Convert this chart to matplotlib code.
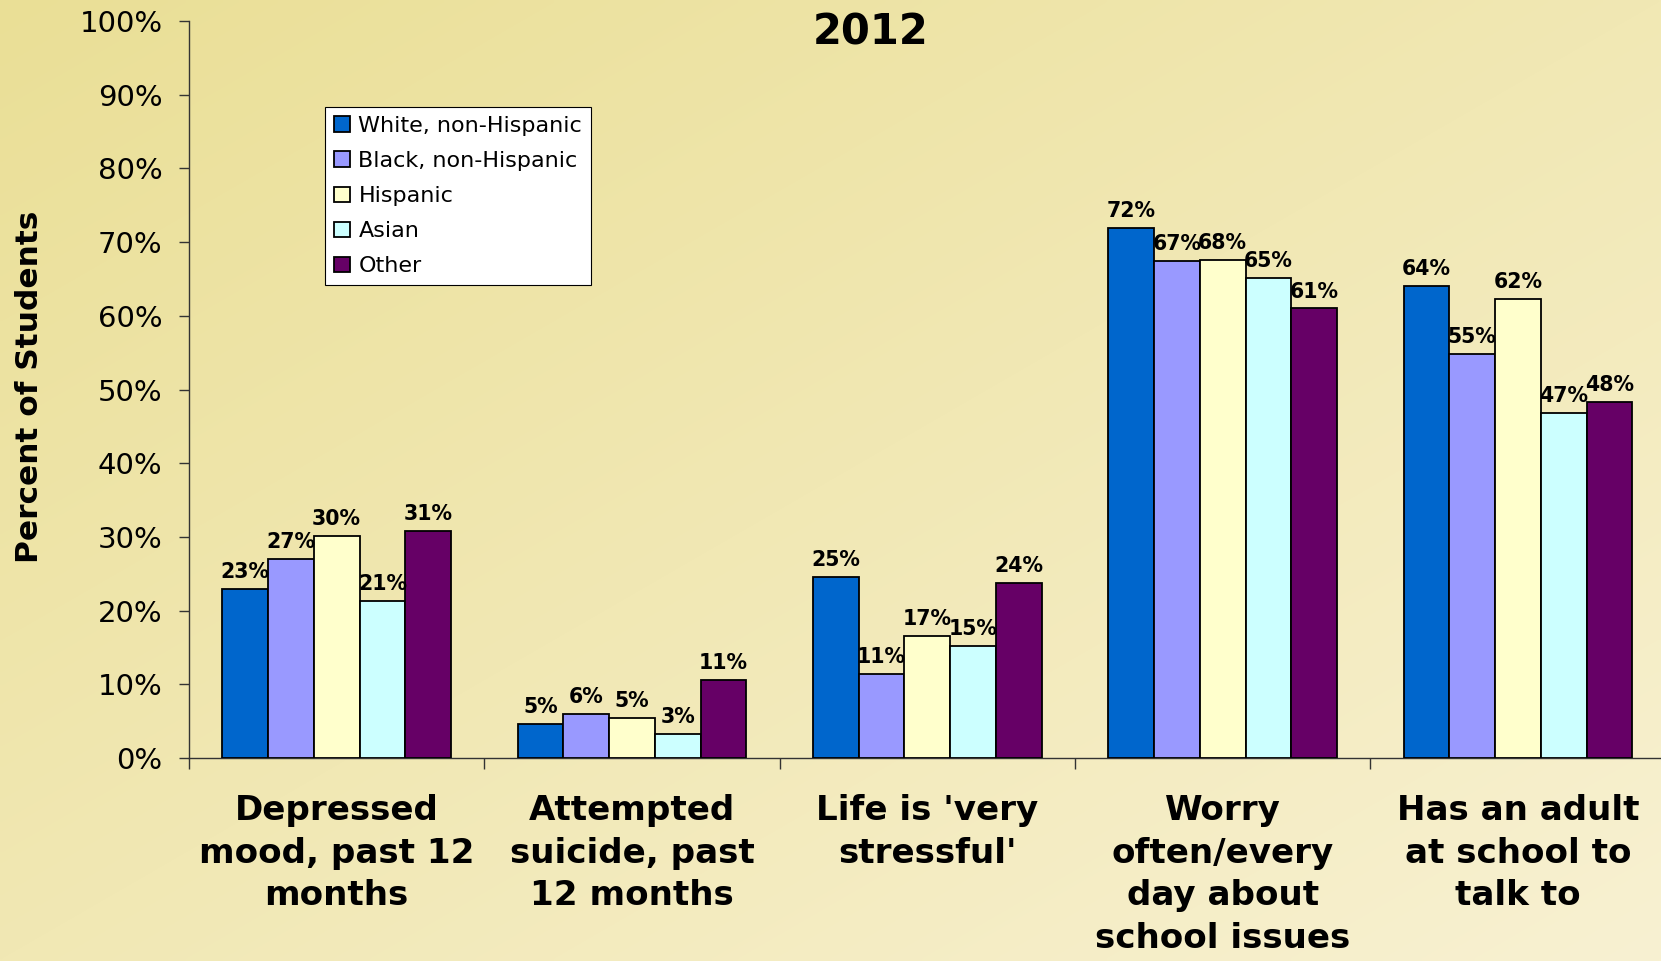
import numpy as np
import matplotlib
matplotlib.use("Agg")
import matplotlib.pyplot as plt

plt.rcParams['font.family'] = ['DejaVu Sans']

categories = ["Depressed\nmood, past 12\nmonths",
              "Attempted\nsuicide, past\n12 months",
              "Life is 'very\nstressful'",
              "Worry\noften/every\nday about\nschool issues",
              "Has an adult\nat school to\ntalk to"]
groups = ["White, non-Hispanic", "Black, non-Hispanic", "Hispanic", "Asian", "Other"]
white = [23.0, 4.6, 24.6, 71.9, 64.0]
black = [27.0, 6.0, 11.4, 67.4, 54.8]
hispanic = [30.1, 5.4, 16.6, 67.6, 62.3]
asian = [21.3, 3.3, 15.2, 65.2, 46.8]
other = [30.8, 10.6, 23.7, 61.0, 48.3]
colors = ["#0066CC", "#9999FF", "#FFFFCC", "#CCFFFF", "#660066"]

series = [white, black, hispanic, asian, other]

fig = plt.figure(figsize=(16.61, 9.61), dpi=100)

# background gradient (diagonal, darker top-left)
bg = fig.add_axes([0, 0, 1, 1], zorder=-10)
H, W = 200, 340
yy, xx = np.mgrid[0:H, 0:W]
t = (xx / (W - 1) + yy / (H - 1)) / 2.0
c0 = np.array([234, 223, 150]) / 255.0
c1 = np.array([248, 241, 210]) / 255.0
img = c0[None, None, :] * (1 - t[..., None]) + c1[None, None, :] * t[..., None]
bg.imshow(img, aspect='auto', extent=[0, 1, 0, 1], interpolation='bilinear')
bg.axis('off')

ax = fig.add_axes([0.1138, 0.2112, 0.889, 0.7669])
ax.set_facecolor('none')

x = np.arange(len(categories))
w = 0.155
for j, (vals, col, name) in enumerate(zip(series, colors, groups)):
    b = ax.bar(x + (j - 2) * w, vals, w, color=col, edgecolor='black', linewidth=1.3,
               label=name, zorder=3)
    for rect, v in zip(b, vals):
        ax.annotate("%d%%" % round(v), (rect.get_x() + rect.get_width() / 2, v),
                    xytext=(0, 5), textcoords='offset points', ha='center', va='bottom',
                    fontsize=14.8, fontweight='bold', zorder=5)

ax.set_xlim(-0.5, 4.5)
ax.set_ylim(0, 100)
ax.set_yticks(np.arange(0, 101, 10))
ax.set_yticklabels(["%d%%" % v for v in range(0, 101, 10)], fontsize=21)
ax.tick_params(axis='y', direction='out', length=7, width=1, pad=12, color='#333333')

ax.set_xticks(x)
ax.set_xticklabels(categories, fontsize=24.6, fontweight='bold', linespacing=1.37)
ax.tick_params(axis='x', which='major', length=0, pad=26)
ax.set_xticks(np.arange(-0.5, 5, 1), minor=True)
ax.tick_params(axis='x', which='minor', direction='out', length=8, width=1, color='#333333')

for s in ['top', 'right']:
    ax.spines[s].set_visible(False)
for s in ['left', 'bottom']:
    ax.spines[s].set_color('#333333')
    ax.spines[s].set_linewidth(1)

fig.text(0.524, 0.966, "2012", fontsize=30, fontweight='bold', ha='center', va='center')
fig.text(0.018, 0.597, "Percent of Students", fontsize=22.5, fontweight='bold',
         rotation=90, ha='center', va='center')

leg = ax.legend(loc='upper left', bbox_to_anchor=(0.1957, 0.8887),
                bbox_transform=fig.transFigure, fontsize=16, frameon=True,
                fancybox=False, edgecolor='black', facecolor='white', framealpha=1,
                handlelength=0.7, handleheight=0.7, handletextpad=0.4,
                labelspacing=0.68, borderpad=0.4, borderaxespad=0)
leg.get_frame().set_linewidth(0.8)

fig.savefig("out.png", dpi=100)
